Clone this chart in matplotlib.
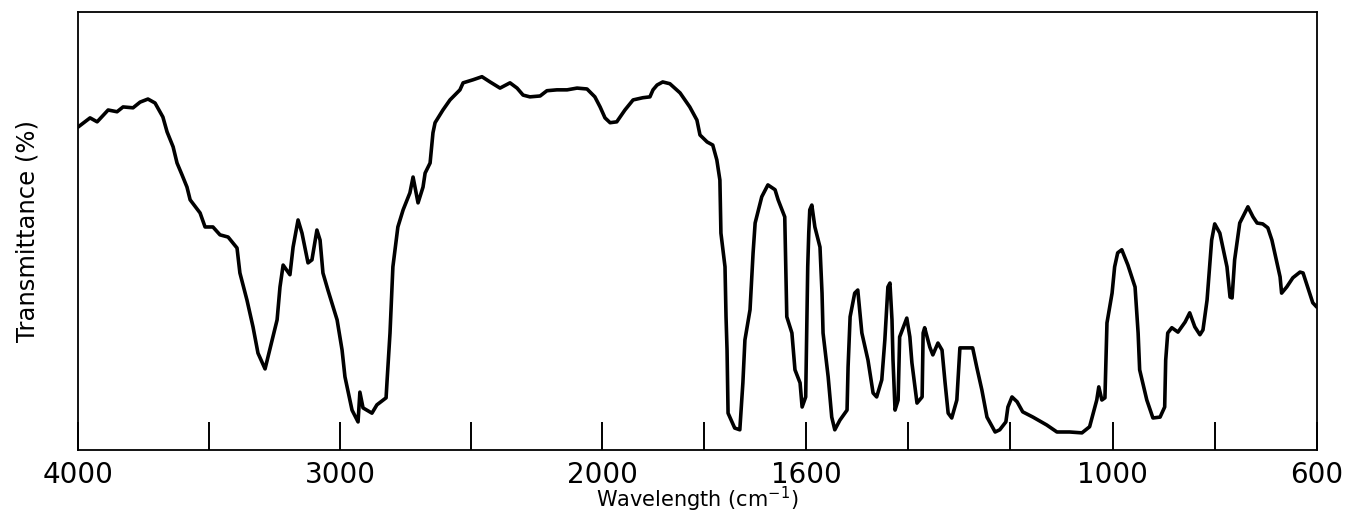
import numpy as np
import matplotlib
matplotlib.use('Agg')
import matplotlib.pyplot as plt

# IR spectrum (wavenumber in cm-1, transmittance in %)
wavenumber = [
    4000, 3954, 3927, 3885, 3851, 3828, 3790, 3763, 3733, 3706, 3676, 3660,
    3637, 3622, 3603, 3584, 3572, 3534, 3515, 3485, 3458, 3427, 3393, 3382,
    3355, 3332, 3313, 3286, 3259, 3240, 3229, 3217, 3191, 3179, 3160, 3145,
    3122, 3107, 3088, 3076, 3065, 3046, 3011, 2992, 2981, 2954, 2931, 2924,
    2912, 2878, 2859, 2824, 2820, 2809, 2798, 2779, 2759, 2733, 2721, 2702,
    2683, 2675, 2656, 2645, 2637, 2607, 2580, 2542, 2530, 2492, 2458, 2427,
    2389, 2351, 2324, 2301, 2275, 2236, 2210, 2172, 2133, 2095, 2057, 2027,
    2007, 1994, 1984, 1971, 1955, 1939, 1920, 1906, 1900, 1892, 1881, 1867,
    1847, 1828, 1814, 1808, 1794, 1783, 1775, 1769, 1767, 1759, 1757, 1755,
    1753, 1740, 1730, 1724, 1720, 1710, 1704, 1700, 1687, 1675, 1661, 1655,
    1642, 1638, 1628, 1622, 1612, 1608, 1601, 1599, 1597, 1595, 1593, 1589,
    1583, 1573, 1569, 1567, 1557, 1550, 1544, 1534, 1520, 1518, 1514, 1505,
    1499, 1491, 1479, 1469, 1462, 1452, 1446, 1440, 1436, 1432, 1430, 1426,
    1420, 1417, 1403, 1397, 1393, 1383, 1373, 1371, 1368, 1358, 1352, 1342,
    1334, 1328, 1322, 1315, 1305, 1299, 1289, 1274, 1266, 1256, 1246, 1230,
    1221, 1209, 1205, 1197, 1187, 1176, 1156, 1129, 1109, 1084, 1060, 1045,
    1031, 1027, 1021, 1015, 1013, 1011, 1001, 996, 990, 982, 970, 956,
    950, 947, 933, 921, 907, 898, 896, 892, 884, 872, 858, 849,
    839, 829, 823, 815, 806, 800, 790, 776, 770, 766, 761, 751,
    741, 735, 725, 717, 706, 696, 688, 678, 672, 669, 659, 647,
    633, 627, 618, 608, 600,
]
transmittance = [
    73.7, 75.8, 74.9, 77.6, 77.2, 78.3, 78.1, 79.4, 80.1, 79.2, 76.0, 72.6,
    69.2, 65.5, 62.8, 60.0, 57.1, 54.1, 50.9, 50.9, 49.1, 48.6, 46.1, 40.4,
    34.2, 28.1, 22.1, 18.5, 25.1, 29.7, 37.2, 42.2, 40.0, 46.3, 52.5, 49.5,
    42.7, 43.4, 50.2, 47.9, 40.4, 36.5, 29.7, 22.8, 16.7, 9.1, 6.4, 13.2,
    9.6, 8.4, 10.3, 11.9, 16.0, 26.7, 41.8, 50.9, 54.8, 58.7, 62.3, 56.4,
    60.0, 63.2, 65.5, 72.4, 74.7, 77.6, 79.9, 82.2, 83.8, 84.5, 85.2, 84.0,
    82.6, 83.8, 82.6, 81.0, 80.6, 80.8, 82.0, 82.2, 82.2, 82.6, 82.4, 80.6,
    78.3, 75.8, 74.7, 74.9, 77.6, 79.9, 80.4, 80.6, 82.2, 83.3, 84.0, 83.6,
    81.5, 78.3, 75.3, 71.9, 70.3, 69.6, 66.2, 61.6, 49.5, 41.8, 30.4, 22.8,
    8.4, 5.0, 4.6, 15.3, 25.1, 32.0, 45.0, 51.8, 57.8, 60.5, 59.4, 57.1,
    53.2, 30.4, 26.7, 18.3, 15.3, 9.8, 12.1, 26.7, 41.8, 49.5, 54.8, 55.9,
    50.9, 46.3, 35.8, 26.7, 16.7, 7.5, 4.6, 6.8, 9.1, 18.9, 30.4, 35.8,
    36.5, 26.7, 20.5, 13.0, 12.1, 16.0, 25.1, 37.2, 38.1, 29.7, 20.5, 9.1,
    11.4, 25.8, 30.1, 25.8, 19.9, 10.7, 12.1, 26.7, 27.9, 23.5, 21.7, 24.4,
    22.8, 15.3, 8.4, 7.3, 11.4, 23.3, 23.3, 23.3, 18.9, 13.7, 7.5, 4.1,
    4.6, 6.4, 9.8, 12.1, 11.0, 8.7, 7.5, 5.7, 4.1, 4.1, 3.9, 5.3,
    11.4, 14.4, 11.4, 11.9, 20.5, 29.0, 35.8, 41.8, 45.0, 45.7, 42.2, 37.2,
    26.7, 18.3, 11.4, 7.3, 7.5, 9.8, 20.5, 26.7, 27.9, 26.9, 29.2, 31.3,
    28.1, 26.3, 27.4, 34.2, 47.9, 51.6, 49.5, 41.8, 34.9, 34.7, 43.4, 51.8,
    54.1, 55.5, 53.2, 51.8, 51.6, 50.7, 47.9, 42.7, 39.5, 35.8, 37.2, 39.3,
    40.6, 40.4, 37.2, 33.6, 32.6,
]
label_ticks = [4000, 3000, 2000, 1600, 1000, 600]
extra_ticks = [3500, 2500, 1800, 1400, 1200, 800]

# the chart switches to a compressed scale above 2000 cm-1
K = 0.513


def fwd(w):
    w = np.asarray(w, dtype=float)
    return np.where(w <= 2000, w, 2000 + (w - 2000) * K)


def inv(u):
    u = np.asarray(u, dtype=float)
    return np.where(u <= 2000, u, 2000 + (u - 2000) / K)


fig = plt.figure(figsize=(13.52, 5.16), dpi=100)
ax = fig.add_axes([0.0577, 0.128, 0.9163, 0.849])
ax.set_xscale('function', functions=(fwd, inv))
ax.plot(wavenumber, transmittance, color='black', lw=2.6,
        solid_joinstyle='round', solid_capstyle='round')
ax.set_xlim(4000, 600)
ax.set_ylim(0, 100)

ax.set_xticks(label_ticks)
ax.set_xticklabels([str(t) for t in label_ticks])
ax.set_xticks(extra_ticks, minor=True)
ax.tick_params(axis='x', which='both', direction='in', length=20, width=1.4,
               top=False, labelsize=20, pad=8, color='black')
ax.set_yticks([])
for s in ax.spines.values():
    s.set_linewidth(1.3)

ax.set_xlabel('Wavelength (cm$^{-1}$)', fontsize=15, labelpad=-3)
ax.set_ylabel('Transmittance (%)', fontsize=17.5, labelpad=28)

fig.savefig('out.png', dpi=100)
